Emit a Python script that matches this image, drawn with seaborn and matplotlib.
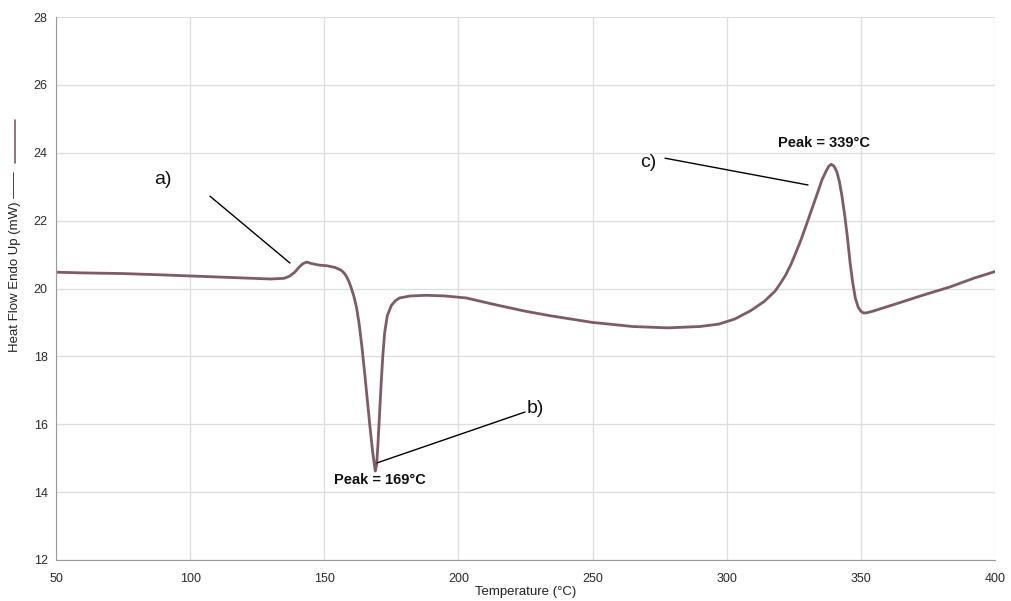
import matplotlib
matplotlib.use('Agg')
import matplotlib.pyplot as plt
from matplotlib.lines import Line2D
import seaborn as sns
import pandas as pd

# DSC trace
temp = [50, 60, 75, 90, 100, 110, 120, 130, 135, 137, 139, 140.5, 142, 143.5, 145, 148, 151, 154, 156,
        157, 158, 159, 160, 161, 162, 163, 164, 165, 166, 167, 168, 168.6, 169, 169.5, 170, 170.6,
        171.2, 171.8, 172.5, 173.5, 175, 176.5, 178, 182, 188, 195, 203,
        215, 225, 234, 250, 265, 278, 290, 297, 303, 309, 314, 318, 320, 322, 324, 326, 328, 330,
        332, 334, 335.5, 337, 338, 339, 340, 341, 342, 343, 344, 345, 346, 347, 348, 349, 350,
        351, 352, 354, 358, 364, 373, 383, 392, 400]
heat = [20.48, 20.46, 20.44, 20.40, 20.37, 20.34, 20.31, 20.28, 20.30, 20.36, 20.48, 20.62, 20.73, 20.78,
        20.74, 20.69, 20.67, 20.62, 20.55, 20.49, 20.39, 20.24, 20.03, 19.78, 19.45, 18.95, 18.3,
        17.55, 16.75, 15.95, 15.2, 14.85, 14.62, 14.8, 15.4, 16.3, 17.2, 18.0, 18.7, 19.2, 19.5,
        19.64, 19.72, 19.78, 19.80, 19.78, 19.72, 19.5, 19.33, 19.2, 19.0, 18.88, 18.84, 18.88,
        18.95, 19.1, 19.35, 19.62, 19.92, 20.15, 20.4, 20.72, 21.1, 21.5, 21.95, 22.4, 22.85,
        23.2, 23.45, 23.6, 23.66, 23.6, 23.45, 23.15, 22.7, 22.15, 21.5, 20.75, 20.15, 19.7,
        19.45, 19.33, 19.28, 19.28, 19.32, 19.42, 19.57, 19.8, 20.04, 20.3, 20.5]

x_ticks = [50, 100, 150, 200, 250, 300, 350, 400]
y_ticks = [12, 14, 16, 18, 20, 22, 24, 26, 28]

# annotation labels: (text, text x, text y, line start, line end)
notes = [('a)', 89.9, 23.2, (107.4, 22.72), (137.2, 20.75)),
         ('b)', 228.5, 16.45, (169.6, 14.86), (224.8, 16.36)),
         ('c)', 270.6, 23.7, (277.0, 23.84), (330.3, 23.05))]
peaks = [('Peak = 169°C', 170.8, 14.36), ('Peak = 339°C', 336.2, 24.29)]

df = pd.DataFrame({'Temperature': temp, 'Heat': heat})

sns.set_style('whitegrid', {'grid.color': '#d9dee2', 'axes.edgecolor': '#9a9a9a'})
plt.rcParams['font.family'] = ['Liberation Sans', 'DejaVu Sans']

curve_col = '#7f5b66'
fig = plt.figure(figsize=(10.11, 6.01), dpi=100)
ax = fig.add_axes([56/1011, 41/601, 939/1011, 543/601])

sns.lineplot(data=df, x='Temperature', y='Heat', ax=ax, color=curve_col, linewidth=2.0, sort=False)

for lab, tx, ty, p0, p1 in notes:
    ax.text(tx, ty, lab, fontsize=14, ha='center', va='center', color='#111111')
    ax.plot([p0[0], p1[0]], [p0[1], p1[1]], color='black', linewidth=1.0)
for lab, tx, ty in peaks:
    ax.text(tx, ty, lab, fontsize=10.5, fontweight='bold', ha='center', va='center', color='#111111')

ax.set_xlim(50, 400)
ax.set_ylim(12, 28)
ax.set_xticks(x_ticks)
ax.set_yticks(y_ticks)
ax.tick_params(axis='y', length=4, width=0.8, color='#9a9a9a', pad=2, labelsize=9, labelcolor='#2a2a2a')
ax.tick_params(axis='x', length=0, pad=9, labelsize=9, labelcolor='#2a2a2a')
ax.set_xlabel('Temperature (°C)', fontsize=9.5, color='#222222', labelpad=1)
ax.set_ylabel('')
for s in ['top', 'right']:
    ax.spines[s].set_visible(False)
ax.grid(True, linewidth=0.9)

fig.text(15/1011, 1-262/601, 'Heat Flow Endo Up (mW) ——', rotation=90, ha='center', va='center',
         fontsize=9.5, color='#222222')
fig.add_artist(Line2D([15/1011, 15/1011], [1-163/601, 1-120/601], color=curve_col, linewidth=1.2))

fig.savefig('out.png', dpi=100)
